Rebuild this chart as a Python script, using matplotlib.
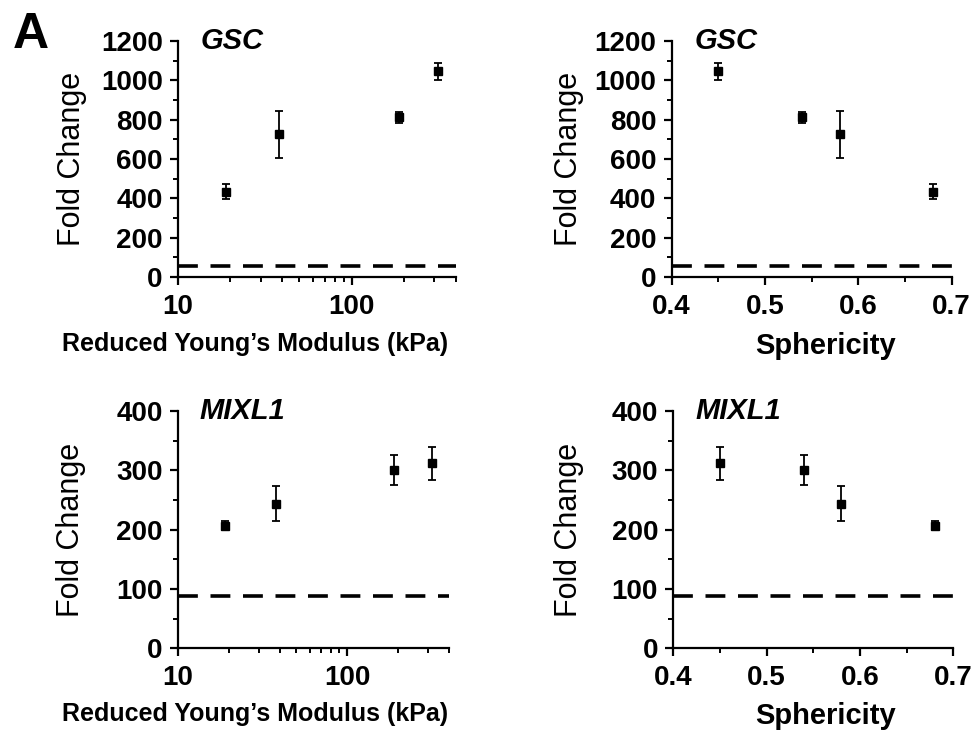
import matplotlib
matplotlib.use('Agg')
from matplotlib import pyplot as plt
from matplotlib import ticker

plt.rcParams['font.family'] = ['Liberation Sans', 'DejaVu Sans']

# Data
modulus = [19, 38, 189, 315]          # reduced Young's modulus (kPa)
sphericity = [0.68, 0.58, 0.54, 0.45]
gsc = [434, 725, 811, 1045]
gsc_err = [39, 118, 27, 45]
mixl1 = [207, 244, 301, 312]
mixl1_err = [7, 29, 25, 28]
gsc_base = 55      # dashed control level
mixl1_base = 88

fig = plt.figure(figsize=(9.76, 7.32), dpi=100)

# axes boxes in figure fraction [left, bottom, width, height]
ax_tl = fig.add_axes([0.1824, 0.6216, 0.2848, 0.3224])
ax_tr = fig.add_axes([0.6882, 0.6216, 0.2869, 0.3224])
ax_bl = fig.add_axes([0.1824, 0.1143, 0.2777, 0.3242])
ax_br = fig.add_axes([0.6899, 0.1143, 0.2869, 0.3242])


def style_axes(ax, ymax, ystep):
    for s in ['top', 'right']:
        ax.spines[s].set_visible(False)
    for s in ['left', 'bottom']:
        ax.spines[s].set_linewidth(1.6)
    ax.set_ylim(0, ymax)
    ax.yaxis.set_major_locator(ticker.MultipleLocator(ystep))
    ax.yaxis.set_minor_locator(ticker.MultipleLocator(ystep / 2))
    ax.tick_params(which='major', direction='out', length=6, width=1.6,
                   labelsize=20, pad=5)
    ax.tick_params(axis='x', which='major', pad=6)
    ax.tick_params(which='minor', direction='out', length=3.5, width=1.4)
    for lab in ax.get_xticklabels() + ax.get_yticklabels():
        lab.set_fontweight('bold')
    ax.set_ylabel('Fold Change', fontsize=22)


def draw(ax, x, y, err, base, name):
    ax.errorbar(x, y, yerr=err, fmt='s', color='black', markersize=6,
                elinewidth=1.3, capsize=3, capthick=1.3, clip_on=False)
    ax.axhline(base, color='black', linewidth=2.6, dashes=(5.5, 3.5))
    ax.text(0.08, 1.0, name, transform=ax.transAxes, fontsize=21,
            fontweight='bold', fontstyle='italic', va='center', ha='left')


# Modulus panels (log x)
for ax, y, err, base, name, ymax, ystep in [
        (ax_tl, gsc, gsc_err, gsc_base, 'GSC', 1200, 200),
        (ax_bl, mixl1, mixl1_err, mixl1_base, 'MIXL1', 400, 100)]:
    draw(ax, modulus, y, err, base, name)
    ax.set_xscale('log')
    ax.set_xlim(10, 400)
    ax.xaxis.set_major_locator(ticker.FixedLocator([10, 100]))
    ax.xaxis.set_major_formatter(ticker.FormatStrFormatter('%d'))
    ax.xaxis.set_minor_locator(ticker.LogLocator(subs=range(2, 10)))
    ax.xaxis.set_minor_formatter(ticker.NullFormatter())
    style_axes(ax, ymax, ystep)
    ax.set_xlabel('Reduced Young\u2019s Modulus (kPa)', fontsize=18,
                  fontweight='bold')

# Sphericity panels
for ax, y, err, base, name, ymax, ystep in [
        (ax_tr, gsc, gsc_err, gsc_base, 'GSC', 1200, 200),
        (ax_br, mixl1, mixl1_err, mixl1_base, 'MIXL1', 400, 100)]:
    draw(ax, sphericity, y, err, base, name)
    ax.set_xlim(0.4, 0.7)
    ax.xaxis.set_major_locator(ticker.MultipleLocator(0.1))
    ax.xaxis.set_minor_locator(ticker.MultipleLocator(0.05))
    ax.xaxis.set_major_formatter(ticker.FormatStrFormatter('%.1f'))
    style_axes(ax, ymax, ystep)
    ax.set_xlabel('Sphericity', fontsize=21, fontweight='bold')

# label positions (axes coords), matched to the reference layout
ax_tl.yaxis.set_label_coords(-0.328, 0.5)
ax_bl.yaxis.set_label_coords(-0.338, 0.5)
ax_tr.yaxis.set_label_coords(-0.312, 0.5)
ax_br.yaxis.set_label_coords(-0.320, 0.5)
ax_tl.xaxis.set_label_coords(0.277, -0.232)
ax_bl.xaxis.set_label_coords(0.284, -0.225)
ax_tr.xaxis.set_label_coords(0.55, -0.232)
ax_br.xaxis.set_label_coords(0.543, -0.225)

fig.text(0.0133, 0.934, 'A', fontsize=36, fontweight='bold', va='baseline')

plt.savefig('out.png', dpi=100)
